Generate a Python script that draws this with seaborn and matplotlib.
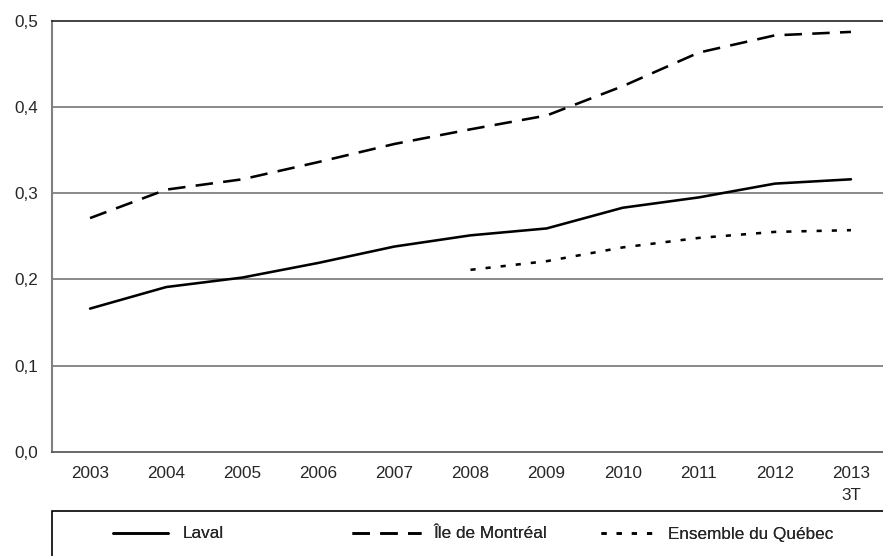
import matplotlib
matplotlib.use("Agg")
import matplotlib.pyplot as plt
import matplotlib.patches as mpatches
import seaborn as sns
import numpy as np
import pandas as pd

years = ["2003", "2004", "2005", "2006", "2007", "2008", "2009", "2010", "2011", "2012", "2013\n3T"]
laval = [0.166, 0.191, 0.202, 0.219, 0.238, 0.251, 0.259, 0.283, 0.295, 0.311, 0.316]
montreal = [0.271, 0.304, 0.316, 0.336, 0.357, 0.374, 0.390, 0.424, 0.463, 0.483, 0.487]
quebec_years = ["2008", "2009", "2010", "2011", "2012", "2013\n3T"]
quebec = [0.211, 0.221, 0.237, 0.248, 0.255, 0.257]
yticks = [0.0, 0.1, 0.2, 0.3, 0.4, 0.5]
ytick_labels = ["0,0", "0,1", "0,2", "0,3", "0,4", "0,5"]

sns.set_style("white")
plt.rcParams["font.family"] = ["Liberation Sans", "DejaVu Sans"]

pos = {y: i for i, y in enumerate(years)}
df_laval = pd.DataFrame({"x": [pos[y] for y in years], "v": laval})
df_mtl = pd.DataFrame({"x": [pos[y] for y in years], "v": montreal})
df_qc = pd.DataFrame({"x": [pos[y] for y in quebec_years], "v": quebec})

fig = plt.figure(figsize=(8.83, 5.56), dpi=100)
ax = fig.add_axes([52 / 883, 1 - 451.7 / 556, (889 - 52) / 883, (451.7 - 20.7) / 556])

lw = 1.85
sns.lineplot(data=df_laval, x="x", y="v", color="black", linewidth=lw, errorbar=None, ax=ax)
sns.lineplot(data=df_mtl, x="x", y="v", color="black", linewidth=lw, errorbar=None, ax=ax)
sns.lineplot(data=df_qc, x="x", y="v", color="black", linewidth=lw, errorbar=None, ax=ax)
l_laval, l_mtl, l_qc = ax.lines[:3]
l_laval.set_linestyle("-")
l_mtl.set_linestyle((0, (6.8, 4.0)))
l_qc.set_linestyle((0, (2.0, 3.9)))
for ln in (l_laval, l_mtl, l_qc):
    ln.set_dash_capstyle("butt")

ax.set_xlim(-0.5, len(years) - 0.5)
ax.set_ylim(0, 0.5)
ax.set_xlabel("")
ax.set_ylabel("")

# horizontal gridlines
for t in yticks[1:-1]:
    ax.axhline(t, color="#808080", linewidth=1.3, zorder=0)

ax.set_yticks(yticks)
ax.set_yticklabels(ytick_labels, fontsize=12.3)
ax.set_xticks(range(len(years)))
ax.set_xticklabels(years, fontsize=12.3)
ax.get_xticklabels()[-1].set_linespacing(1.65)
ax.set_xticks(np.arange(0.5, len(years) - 1, 1), minor=True)
ax.tick_params(axis="x", which="major", length=0, pad=10)
ax.tick_params(axis="x", which="minor", length=5, width=1, color="#404040", direction="inout")
ax.tick_params(axis="y", which="major", length=4, width=1, color="#404040", direction="out", pad=6)

for s in ["left", "bottom", "top", "right"]:
    ax.spines[s].set_visible(True)
ax.spines["left"].set_color("#808080")
ax.spines["left"].set_linewidth(1.5)
ax.spines["bottom"].set_color("#505050")
ax.spines["bottom"].set_linewidth(1.2)
ax.spines["top"].set_color("#222222")
ax.spines["top"].set_linewidth(1.2)
ax.spines["right"].set_visible(False)

# legend frame
frame = mpatches.Rectangle((52 / 883, -0.02), 1.0, 0.02 + (1 - 510.7 / 556),
                           transform=fig.transFigure, fill=False,
                           edgecolor="black", linewidth=1.2)
fig.add_artist(frame)

ly = 1 - 534 / 556
entries = [
    (l_laval, "Laval", 113, 3.2, 0.85),
    (l_mtl, "Île de Montréal", 352, 4.05, 0.7),
    (l_qc, "Ensemble du Québec", 601, 3.05, 0.85),
]
for handle, label, x0, hl, tp in entries:
    leg = fig.legend(handles=[handle], labels=[label], loc="center left",
                     bbox_to_anchor=(x0 / 883, ly), frameon=False, borderpad=0,
                     borderaxespad=0, handlelength=hl, handletextpad=tp, fontsize=12.3)
    fig.add_artist(leg)

fig.savefig("out.png", dpi=100)
